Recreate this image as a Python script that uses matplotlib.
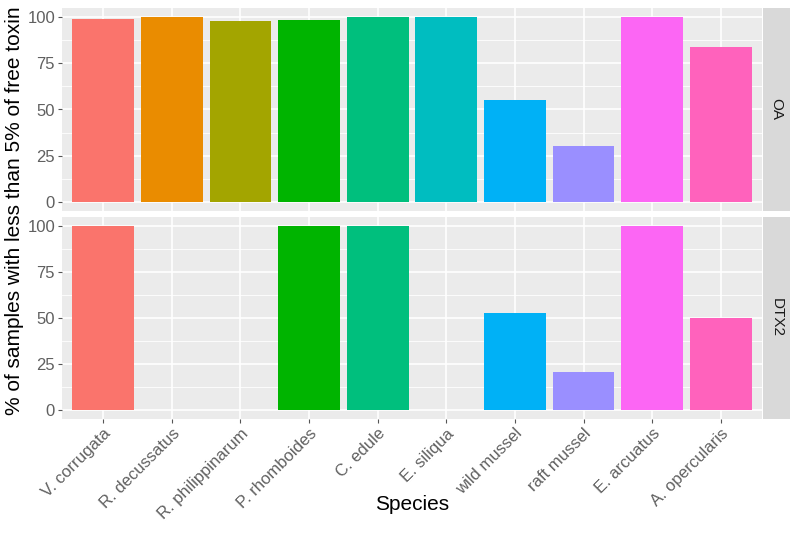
import numpy as np
import matplotlib.pyplot as plt

plt.rcParams['font.family'] = ['Liberation Sans', 'DejaVu Sans']

species = ["V. corrugata", "R. decussatus", "R. philippinarum", "P. rhomboides",
           "C. edule", "E. siliqua", "wild mussel", "raft mussel",
           "E. arcuatus", "A. opercularis"]
oa = [99, 100, 98, 98.7, 100, 100, 55, 30, 100, 84]
dtx2 = [100, np.nan, np.nan, 100, 100, np.nan, 52.5, 20.5, 100, 50]
panels = ["OA", "DTX2"]

# ggplot hue palette, a touch brighter like the reference
colors = ["#FA746C", "#EA8C00", "#A3A500", "#00B400", "#00BF7D",
          "#00BDC0", "#00B1F6", "#9A8FFF", "#FC66F4", "#FF62BC"]

fig = plt.figure(figsize=(7.96, 5.51), dpi=100)
W, H = 796, 551
left, right = 62, 762
boxes = [(8, 211), (217, 419)]
x = np.arange(len(species))

for (top, bot), name, vals in zip(boxes, panels, [oa, dtx2]):
    ax = fig.add_axes([left / W, 1 - bot / H, (right - left) / W, (bot - top) / H])
    ax.set_facecolor("#EBEBEB")
    for y in [12.5, 37.5, 62.5, 87.5]:
        ax.axhline(y, color="white", lw=0.6, zorder=0)
    for y in [0, 25, 50, 75, 100]:
        ax.axhline(y, color="white", lw=1.2, zorder=0)
    for xi in x:
        ax.axvline(xi, color="white", lw=1.2, zorder=0)
    ax.bar(x, vals, width=0.9, color=colors, zorder=2)
    ax.set_xlim(-0.6, len(species) - 0.4)
    ax.set_ylim(-5, 105)
    ax.set_yticks([0, 25, 50, 75, 100])
    ax.tick_params(colors="#555555", labelsize=12, length=3, width=0.8,
                   labelcolor="#606060", pad=2)
    ax.set_xticks(x)
    if name == "OA":
        ax.tick_params(axis="x", length=0, labelbottom=False)
    else:
        ax.set_xticklabels(species, rotation=45, ha="right", va="top",
                           rotation_mode="anchor")
    for s in ax.spines.values():
        s.set_visible(False)

    # facet strip
    sax = fig.add_axes([(right + 1) / W, 1 - bot / H, 27 / W, (bot - top) / H])
    sax.set_facecolor("#D9D9D9")
    sax.set_xticks([])
    sax.set_yticks([])
    for s in sax.spines.values():
        s.set_visible(False)
    sax.text(0.5, 0.5, name, rotation=-90, ha="center", va="center",
             fontsize=11, color="#1A1A1A", transform=sax.transAxes)

fig.text(15 / W, 1 - 211 / H, "% of samples with less than 5% of free toxin",
         rotation=90, ha="center", va="center", fontsize=15, color="black")
fig.text((left + right) / 2 / W, 1 - 505 / H, "Species",
         ha="center", va="center", fontsize=15, color="black")

fig.savefig("out.png", dpi=100)
